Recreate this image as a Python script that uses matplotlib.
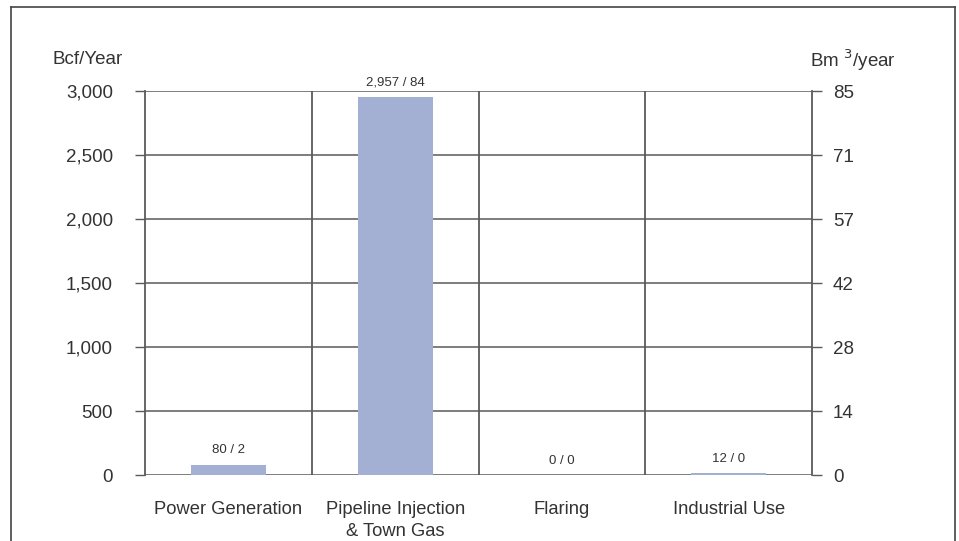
import matplotlib
matplotlib.use("Agg")
import matplotlib.pyplot as plt
from matplotlib.lines import Line2D

# Gas usage by category
categories = ["Power Generation", "Pipeline Injection\n& Town Gas", "Flaring", "Industrial Use"]
bcf_per_year = [80, 2957, 0, 12]
bm3_per_year = [2, 84, 0, 0]
left_ticks = [0, 500, 1000, 1500, 2000, 2500, 3000]
left_tick_labels = ["0", "500", "1,000", "1,500", "2,000", "2,500", "3,000"]
right_tick_labels = ["0", "14", "28", "42", "57", "71", "85"]

plt.rcParams["font.family"] = ["Liberation Sans", "DejaVu Sans"]

TXT = "#333333"
GRID = "#5a5a5a"
BAR = "#a3afd3"

fig = plt.figure(figsize=(9.59, 5.41), dpi=100)
ax = fig.add_axes([145 / 959, 1 - 475 / 541, (812 - 145) / 959, (475 - 91) / 541])

x = list(range(len(categories)))
ax.bar(x, bcf_per_year, width=0.45, color=BAR, zorder=3)

ax.set_xlim(-0.5, len(categories) - 0.5)
ax.set_ylim(0, 3000)

# horizontal grid
for t in left_ticks:
    ax.axhline(t, color=GRID, lw=1.1, zorder=1)
# category separators
for b in [i + 0.5 for i in range(len(categories) - 1)]:
    ax.axvline(b, color=GRID, lw=1.3, zorder=1)

for s in ["top", "bottom"]:
    ax.spines[s].set_visible(False)
for s in ["left", "right"]:
    ax.spines[s].set_color(GRID)
    ax.spines[s].set_linewidth(1.3)

ax.set_yticks(left_ticks)
ax.set_yticklabels(left_tick_labels, fontsize=13.5, color=TXT)
ax.tick_params(axis="y", length=7, width=1.0, color=GRID, pad=16)
ax.set_xticks(x)
ax.set_xticklabels(categories, fontsize=13.2, color=TXT, linespacing=1.35)
ax.tick_params(axis="x", length=0, pad=19)

ax2 = ax.twinx()
ax2.set_ylim(ax.get_ylim())
ax2.set_yticks(left_ticks)
ax2.set_yticklabels(right_tick_labels, fontsize=13.5, color=TXT)
ax2.tick_params(axis="y", length=7, width=1.0, color=GRID, pad=8)
for s in ["top", "bottom", "left", "right"]:
    ax2.spines[s].set_visible(False)

for xi, v, m in zip(x, bcf_per_year, bm3_per_year):
    ax.annotate(f"{v:,} / {m}", (xi, v), xytext=(0, 6), textcoords="offset points",
                ha="center", va="bottom", fontsize=9.5, color=TXT)

fig.text(53 / 959, 1 - 60 / 541, "Bcf/Year", fontsize=13.5, color=TXT, va="center", ha="left")
fig.text(810 / 959, 1 - 60 / 541, "Bm $^{3}$/year", fontsize=13.5, color=TXT, va="center", ha="left")

# outer frame (open at the bottom)
fx0, fx1, fy1 = 11 / 959, 955 / 959, 1 - 7 / 541
for xs, ys in [([fx0, fx0], [0, fy1]), ([fx0, fx1], [fy1, fy1]), ([fx1, fx1], [fy1, 0])]:
    fig.add_artist(Line2D(xs, ys, color="#444444", lw=1.2, transform=fig.transFigure))

fig.savefig("out.png", dpi=100)
